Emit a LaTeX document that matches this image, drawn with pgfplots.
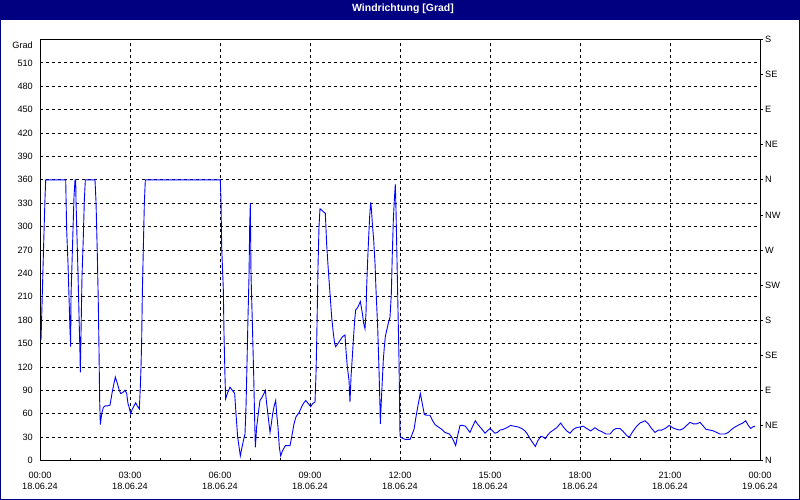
\documentclass[border=0pt]{standalone}
\usepackage{pgfplots}
\pgfplotsset{compat=1.18}
\usepackage{fontspec}
\setmainfont{Liberation Sans}
\definecolor{titlebar}{RGB}{0,0,128}
\definecolor{trace}{RGB}{0,0,255}

\begin{document}
\begin{tikzpicture}
\useasboundingbox (0bp,0bp) rectangle (800bp,500bp);
\fill[white] (0bp,0bp) rectangle (800bp,500bp);
\fill[titlebar] (0bp,480bp) rectangle (800bp,500bp);
\draw[titlebar, line width=1bp] (0.5bp,0.5bp) rectangle (799.5bp,499.5bp);
\node[white, font=\fontsize{10.5}{12}\selectfont\bfseries] at (403bp,491bp) {Windrichtung [Grad]};

% Hauptachse: Grad, Zeit
\begin{axis}[
  at={(40bp,39.5bp)}, anchor=south west,
  width=720bp, height=421bp, scale only axis,
  xmin=0, xmax=24, ymin=0, ymax=540,
  xtick={0,3,...,24},
  xticklabels={{00:00\\18.06.24},{03:00\\18.06.24},{06:00\\18.06.24},{09:00\\18.06.24},{12:00\\18.06.24},{15:00\\18.06.24},{18:00\\18.06.24},{21:00\\18.06.24},{00:00\\19.06.24}},
  minor xtick={0,1,...,24},
  xtick pos=left,
  ytick={0,30,...,510},
  ytick pos=left,
  tick align=inside,
  major tick length=3bp, minor tick length=3bp,
  ytick style={draw=none},
  xmajorgrids, ymajorgrids,
  grid style={black, line width=0.8bp, dash pattern=on 3bp off 3bp},
  axis line style={black, line width=1bp},
  tick style={black, line width=0.8bp},
  ticklabel style={font=\fontsize{9.2}{11}\selectfont},
  xticklabel style={align=center, inner sep=0pt, yshift=-11bp},
  yticklabel style={inner sep=0pt, xshift=-7bp},
  /pgf/number format/assume math mode=true,
]
\addplot[trace, line width=0.9bp] coordinates {
(0.033,154) (0.067,199) (0.1,247) (0.133,292) (0.167,337) (0.19,360) (0.857,360)
(0.867,338) (0.889,296) (0.933,253) (0.967,210) (1.0,167) (1.022,146) (1.033,210)
(1.067,253) (1.1,296) (1.133,338) (1.167,360) (1.19,360) (1.2,334) (1.233,287)
(1.267,240) (1.3,187) (1.333,137) (1.344,113) (1.367,163) (1.4,236) (1.444,287)
(1.478,334) (1.511,360) (1.833,360) (1.867,332) (1.911,264) (1.944,201) (1.967,141)
(1.989,77) (2.011,46) (2.056,60) (2.111,68) (2.167,70) (2.244,70) (2.333,71)
(2.4,86) (2.444,95) (2.511,107) (2.578,99) (2.644,90) (2.689,86) (2.756,87)
(2.833,90) (2.889,86) (2.933,73) (2.967,69) (3.022,60) (3.078,66) (3.133,70)
(3.189,74) (3.244,70) (3.311,66) (3.344,94) (3.367,120) (3.389,154) (3.411,214)
(3.444,272) (3.478,330) (3.511,360) (6.01,360)
(6.033,334) (6.056,274) (6.111,219) (6.133,163) (6.167,107) (6.189,79) (6.244,86)
(6.333,94) (6.411,90) (6.489,86) (6.533,60) (6.589,30) (6.644,15) (6.678,6)
(6.733,17) (6.789,27) (6.833,34) (6.867,69) (6.9,124) (6.933,184) (6.967,236)
(6.989,300) (7.011,330) (7.033,240) (7.078,176) (7.122,111) (7.156,51) (7.178,17)
(7.222,43) (7.289,64) (7.333,77) (7.4,81) (7.467,86) (7.511,90) (7.556,73)
(7.622,51) (7.667,36) (7.711,47) (7.756,60) (7.8,69) (7.856,77) (7.889,60)
(7.933,43) (7.978,17) (8.022,6) (8.089,13) (8.178,19) (8.333,19) (8.389,30)
(8.467,47) (8.533,56) (8.644,62) (8.722,69) (8.778,73) (8.856,77) (8.944,73)
(9.022,69) (9.089,73) (9.167,75) (9.2,111) (9.222,150) (9.244,197) (9.267,249)
(9.3,300) (9.333,323) (9.422,320) (9.511,317) (9.556,277) (9.611,244) (9.667,214)
(9.722,184) (9.778,163) (9.822,150) (9.856,146) (9.933,150) (10.0,154) (10.089,159)
(10.167,161) (10.2,141) (10.244,120) (10.3,103) (10.333,75) (10.367,107) (10.411,133)
(10.444,154) (10.489,180) (10.522,193) (10.6,197) (10.678,204) (10.744,189) (10.789,176)
(10.833,169) (10.867,189) (10.889,223) (10.922,257) (10.956,287) (10.989,313) (11.022,331)
(11.044,324) (11.078,304) (11.122,283) (11.167,253) (11.2,219) (11.256,171) (11.3,116)
(11.333,69) (11.344,47) (11.378,77) (11.411,103) (11.444,129) (11.478,146) (11.511,159)
(11.556,167) (11.611,176) (11.667,184) (11.711,214) (11.744,266) (11.778,309) (11.811,334)
(11.844,354) (11.867,321) (11.9,257) (11.933,193) (11.967,129) (11.989,64) (12.0,32)
(12.022,30) (12.111,28) (12.189,27) (12.333,27) (12.389,32) (12.467,40) (12.533,56)
(12.611,73) (12.678,86) (12.733,75) (12.811,59) (12.889,58) (13.0,58) (13.089,51)
(13.167,46) (13.278,43) (13.389,40) (13.5,36) (13.644,34) (13.722,30) (13.778,26)
(13.856,19) (13.922,32) (14.0,45) (14.089,45) (14.178,44) (14.256,40) (14.333,36)
(14.411,43) (14.511,51) (14.578,47) (14.667,43) (14.756,39) (14.833,35) (14.911,38)
(15.0,41) (15.089,38) (15.167,35) (15.244,36) (15.333,39) (15.444,40) (15.556,42)
(15.689,45) (15.8,44) (15.944,43) (16.056,41) (16.167,38) (16.244,34) (16.333,28)
(16.422,23) (16.511,18) (16.589,25) (16.689,31) (16.778,30) (16.844,28) (16.911,32)
(17.0,36) (17.111,39) (17.222,42) (17.311,46) (17.356,48) (17.444,43) (17.556,38)
(17.667,35) (17.778,40) (17.867,42) (18.0,43) (18.111,44) (18.222,41) (18.356,38)
(18.5,42) (18.611,39) (18.722,37) (18.867,34) (19.0,34) (19.111,39) (19.2,41)
(19.333,41) (19.444,37) (19.556,32) (19.644,30) (19.756,37) (19.867,43) (20.0,48)
(20.167,51) (20.278,47) (20.389,41) (20.5,36) (20.611,39) (20.722,39) (20.833,41)
(20.978,45) (21.089,42) (21.222,40) (21.333,39) (21.444,41) (21.556,45) (21.667,49)
(21.778,47) (21.889,47) (22.0,49) (22.111,44) (22.2,40) (22.333,39) (22.444,38)
(22.556,36) (22.667,34) (22.833,34) (22.944,36) (23.056,40) (23.167,43) (23.311,46)
(23.422,48) (23.522,51) (23.611,45) (23.689,41) (23.756,43) (23.833,44)
};
\end{axis}

% rechte Achse: Himmelsrichtungen
\begin{axis}[
  at={(40bp,39.5bp)}, anchor=south west,
  width=720bp, height=421bp, scale only axis,
  xmin=0, xmax=24, ymin=0, ymax=540,
  axis x line=none, axis y line*=right,
  ytick={0,45,...,540},
  yticklabels={N,NE,E,SE,S,SW,W,NW,N,NE,E,SE,S},
  tick align=outside, major tick length=3bp,
  axis line style={black, line width=1bp},
  tick style={black, line width=0.8bp},
  yticklabel style={font=\fontsize{9.2}{11}\selectfont, inner sep=0pt, anchor=west, xshift=2bp},
]
\end{axis}
\node[anchor=east, inner sep=0pt, font=\fontsize{9.2}{11}\selectfont] at (33bp,455bp) {Grad};
\end{tikzpicture}
\end{document}
